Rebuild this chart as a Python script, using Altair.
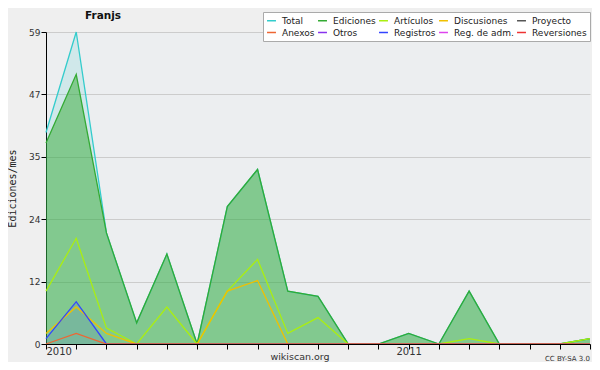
import altair as alt
import pandas as pd

# month index 0 = 2010-01 ... 18 = 2011-07
months = list(range(19))
total       = [40, 59, 21, 4, 17, 0, 26, 33, 10, 9, 0, 0, 2, 0, 10, 0, 0, 0, 1]
ediciones   = [38, 51, 21, 4, 17, 0, 26, 33, 10, 9, 0, 0, 2, 0, 10, 0, 0, 0, 1]
articulos   = [10, 20, 3, 0, 7, 0, 10, 16, 2, 5, 0, 0, 0, 0, 1, 0, 0, 0, 1]
discusiones = [2, 7, 2, 0, 0, 0, 10, 12, 0, 0, 0, 0, 0, 0, 0, 0, 0, 0, 0]
registros   = [1, 8, 0, 0, 0, 0, 0, 0, 0, 0, 0, 0, 0, 0, 0, 0, 0, 0, 0]
anexos      = [0, 2, 0, 0, 0, 0, 0, 0, 0, 0, 0, 0, 0, 0, 0, 0, 0, 0, 0]

series_names = ["Total", "Ediciones", "Artículos", "Discusiones", "Proyecto",
                "Anexos", "Otros", "Registros", "Reg. de adm.", "Reversiones"]
series_colors = ["#33cccc", "#33aa33", "#aaee11", "#f0c000", "#555555",
                 "#ee6633", "#8833ee", "#3344ff", "#dd44ee", "#ee3333"]
y_ticks = [0, 11.8, 23.6, 35.4, 47.2, 59]

wide = pd.DataFrame({
    "m": months,
    "Total": total,
    "Ediciones": ediciones,
    "Artículos": articulos,
    "Discusiones": discusiones,
    "Registros": registros,
    "Anexos": anexos,
})
long = wide.melt(id_vars="m", var_name="series", value_name="v")

FONT = "DejaVu Sans"
MONO = "DejaVu Sans Mono"

x_enc = alt.X("m:Q", scale=alt.Scale(domain=[0, 18], nice=False, zero=False),
              axis=alt.Axis(values=months, grid=False, tickSize=5, tickColor="black",
                            domainColor="black", labelPadding=-3, labelFontSize=10,
                            labelFont=FONT, labelColor="#333333", title=None, zindex=1,
                            labelExpr="datum.value == 0 ? '2010' : datum.value == 12 ? '2011' : ''"))
y_enc = alt.Y("v:Q", scale=alt.Scale(domain=[0, 59], nice=False),
              axis=alt.Axis(values=y_ticks, format=".0f", grid=True, gridColor="#cccccc",
                            tickSize=5, tickColor="black", domainColor="black",
                            labelFontSize=9, labelFont=FONT, labelColor="#333333",
                            labelPadding=1,
                            title="Ediciones/mes", titleFont=MONO, titleFontSize=10,
                            titleFontWeight="normal", titleColor="#222222", titleAngle=270,
                            titleX=-34, titleY=156, titleAlign="center", titleBaseline="middle"))

base = alt.Chart(long)

area_total = base.transform_filter(alt.datum.series == "Total").mark_area(
    color="#33cccc", opacity=0.15).encode(x=x_enc, y=y_enc)
area_ed = base.transform_filter(alt.datum.series == "Ediciones").mark_area(
    color="#33aa33", opacity=0.5).encode(x=x_enc, y=y_enc)
area_reg = base.transform_filter(alt.datum.series == "Registros").mark_area(
    color="#3344ff", opacity=0.12).encode(x=x_enc, y=y_enc)

lines = base.mark_line(strokeWidth=1.3).encode(
    x=x_enc, y=y_enc,
    color=alt.Color("series:N",
                    scale=alt.Scale(domain=series_names, range=series_colors),
                    legend=alt.Legend(orient="none", legendX=217, legendY=-20, columns=5,
                                      direction="horizontal", gridAlign="each",
                                      title=None, symbolType="stroke", symbolSize=80,
                                      symbolStrokeWidth=1.5, labelFontSize=9, labelFont=FONT,
                                      labelColor="#222222", fillColor="white",
                                      strokeColor="#aaaaaa", padding=3, columnPadding=0,
                                      rowPadding=1, labelLimit=200, labelOffset=5)),
)

title_t = alt.Chart(pd.DataFrame({"t": ["Franjs"]})).mark_text(
    font=FONT, fontSize=10.5, fontWeight="bold", color="#111111", align="left",
    baseline="alphabetic").encode(x=alt.value(39), y=alt.value(-13), text="t:N")
footer1 = alt.Chart(pd.DataFrame({"t": ["wikiscan.org"]})).mark_text(
    font=FONT, fontSize=9.5, color="#333333").encode(
    x=alt.value(254), y=alt.value(325), text="t:N")
footer2 = alt.Chart(pd.DataFrame({"t": ["CC BY-SA 3.0"]})).mark_text(
    font=FONT, fontSize=7, color="#333333", align="right").encode(
    x=alt.value(544), y=alt.value(327), text="t:N")

chart = alt.layer(area_total, area_ed, area_reg, lines, title_t, footer1, footer2).properties(
    width=544, height=312,
    autosize=alt.AutoSizeParams(type="none"),
    padding={"left": 38, "top": 24, "right": 2, "bottom": 18},
    background="#efefef",
).configure_view(strokeWidth=0, fill="#eceef0")

chart.save("out.html", embed_options={"renderer": "svg", "actions": False})
